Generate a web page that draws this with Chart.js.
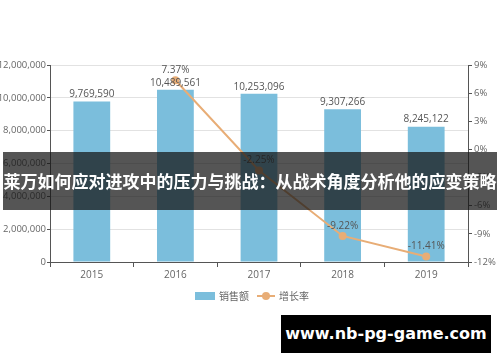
<!DOCTYPE html>
<html>
<head>
<meta charset="utf-8">
<script src="https://cdn.jsdelivr.net/npm/chart.js@4.4.0/dist/chart.umd.min.js"></script>
<style>
  html, body { margin: 0; padding: 0; background: #fff; }
  #wrap { position: relative; width: 500px; height: 362px; overflow: hidden; }
  #banner {
    position: absolute; left: 3px; right: 3px; top: 152px; height: 58px;
    background: rgba(20, 20, 20, 0.72);
    color: #fff; font: bold 17px "Noto Sans CJK SC", sans-serif;
    line-height: 58px; text-align: center; white-space: nowrap;
  }
  #mark {
    position: absolute; left: 281px; top: 315px; width: 210px; height: 38px;
    background: #000; color: #fff;
    font: bold 16px "DejaVu Sans", sans-serif; line-height: 38px; text-align: center;
  }
</style>
</head>
<body>
<div id="wrap">
  <canvas id="chart" width="500" height="362"></canvas>
  <div id="banner">莱万如何应对进攻中的压力与挑战：从战术角度分析他的应变策略</div>
  <div id="mark">www.nb-pg-game.com</div>
</div>
<script>
// chart data
const years = ['2015', '2016', '2017', '2018', '2019'];
const sales = [9769590, 10489561, 10253096, 9307266, 8245122];
const growth = [null, 7.37, -2.25, -9.22, -11.41];
const legendNames = ['销售额', '增长率'];

const barColor = '#7bbedc';
const lineColor = '#e8ad76';
const textColor = '#666';
const axisColor = '#555';

// value labels above bars and points
const valueLabels = {
    id: 'valueLabels',
    afterDatasetsDraw(chart) {
        const ctx = chart.ctx;
        ctx.save();
        ctx.font = '10px "Open Sans", "DejaVu Sans", sans-serif';
        ctx.fillStyle = '#555';
        ctx.textAlign = 'center';
        ctx.textBaseline = 'bottom';
        chart.getDatasetMeta(0).data.forEach((bar, i) => {
            ctx.fillText(sales[i].toLocaleString('en-US'), bar.x, bar.y - 2);
        });
        chart.getDatasetMeta(1).data.forEach((pt, i) => {
            if (growth[i] === null) return;
            ctx.fillText(growth[i].toFixed(2) + '%', pt.x, pt.y - 5);
        });
        ctx.restore();
    }
};

// small legend at the bottom
const bottomLegend = {
    id: 'bottomLegend',
    afterDraw(chart) {
        const ctx = chart.ctx;
        ctx.save();
        ctx.font = '10px "Noto Sans CJK SC", sans-serif';
        ctx.textBaseline = 'middle';
        const y = 296;
        const w0 = ctx.measureText(legendNames[0]).width;
        const w1 = ctx.measureText(legendNames[1]).width;
        const total = 20 + 4 + w0 + 8 + 18 + 4 + w1;
        let x = chart.width / 2 - total / 2 + 2;
        ctx.fillStyle = barColor;
        ctx.fillRect(x, y - 4, 20, 8);
        x += 24;
        ctx.fillStyle = textColor;
        ctx.fillText(legendNames[0], x, y);
        x += w0 + 8;
        ctx.strokeStyle = lineColor;
        ctx.lineWidth = 2;
        ctx.beginPath();
        ctx.moveTo(x, y);
        ctx.lineTo(x + 18, y);
        ctx.stroke();
        ctx.fillStyle = lineColor;
        ctx.beginPath();
        ctx.arc(x + 9, y, 4, 0, Math.PI * 2);
        ctx.fill();
        x += 22;
        ctx.fillStyle = textColor;
        ctx.fillText(legendNames[1], x, y);
        ctx.restore();
    }
};

const tickFont = { family: '"Open Sans", "DejaVu Sans", sans-serif', size: 9.5 };

new Chart(document.getElementById('chart'), {
    type: 'bar',
    data: {
        labels: years,
        datasets: [
            {
                type: 'bar',
                label: legendNames[0],
                data: sales,
                backgroundColor: barColor,
                yAxisID: 'y',
                categoryPercentage: 0.88,
                barPercentage: 0.5,
                order: 2
            },
            {
                type: 'line',
                label: legendNames[1],
                data: growth,
                borderColor: lineColor,
                backgroundColor: lineColor,
                borderWidth: 2,
                pointRadius: 4,
                pointBackgroundColor: lineColor,
                pointBorderWidth: 0,
                tension: 0,
                yAxisID: 'y1',
                order: 1
            }
        ]
    },
    options: {
        responsive: false,
        animation: false,
        layout: { padding: { top: 65, bottom: 79, left: 0, right: 0 } },
        plugins: {
            legend: { display: false },
            tooltip: { enabled: false }
        },
        scales: {
            x: {
                grid: { display: true, drawOnChartArea: false, offset: true, tickLength: 5, color: axisColor },
                border: { color: axisColor },
                ticks: { color: textColor, font: { ...tickFont, size: 10 }, padding: 2 }
            },
            y: {
                position: 'left',
                min: 0,
                max: 12000000,
                afterFit(s) { s.width = 50; },
                ticks: {
                    stepSize: 2000000,
                    color: textColor,
                    font: tickFont,
                    padding: 1,
                    callback: v => v.toLocaleString('en-US')
                },
                grid: { color: '#e2e2e2', tickColor: axisColor, tickLength: 3 },
                border: { color: axisColor }
            },
            y1: {
                position: 'right',
                min: -12,
                max: 9,
                afterFit(s) { s.width = 32; },
                ticks: {
                    stepSize: 3,
                    color: textColor,
                    font: tickFont,
                    padding: 2,
                    callback: v => v + '%'
                },
                grid: { drawOnChartArea: false, tickColor: axisColor, tickLength: 4 },
                border: { color: axisColor }
            }
        }
    },
    plugins: [valueLabels, bottomLegend]
});
</script>
</body>
</html>
